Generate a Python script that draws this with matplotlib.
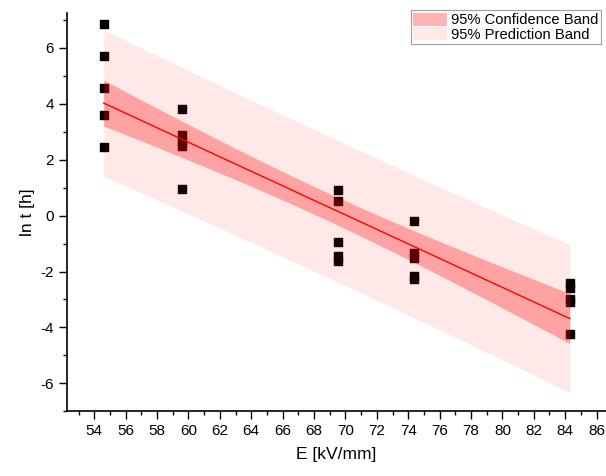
import numpy as np
import matplotlib
matplotlib.use('Agg')
from matplotlib import pyplot as plt
from matplotlib.patches import Patch

plt.rcParams['font.family'] = ['Liberation Sans', 'DejaVu Sans']
plt.rcParams['axes.unicode_minus'] = False

# measured breakdown data: field strength and log time to breakdown
E = [54.6] * 5 + [59.6] * 5 + [69.5] * 5 + [74.4] * 5 + [84.3] * 5
lnt = [6.85, 5.70, 4.55, 3.60, 2.45,
       3.80, 2.90, 2.65, 2.50, 0.95,
       0.92, 0.52, -0.95, -1.45, -1.62,
       -0.18, -1.35, -1.50, -2.15, -2.25,
       -2.40, -2.60, -3.00, -3.10, -4.25]
x_ticks = list(range(54, 87, 2))
y_ticks = [-6, -4, -2, 0, 2, 4, 6]

x = np.array(E)
y = np.array(lnt)
n = len(x)
b, a = np.polyfit(x, y, 1)
resid = y - (a + b * x)
s = np.sqrt(np.sum(resid ** 2) / (n - 2))
t_crit = 2.069  # t(0.975, df=23)
xbar = x.mean()
sxx = np.sum((x - xbar) ** 2)

xf = np.linspace(x.min(), x.max(), 200)
yf = a + b * xf
ci = t_crit * s * np.sqrt(1 / n + (xf - xbar) ** 2 / sxx)
pi = t_crit * s * np.sqrt(1 + 1 / n + (xf - xbar) ** 2 / sxx)

fig = plt.figure(figsize=(6.06, 4.76), dpi=100)
ax = fig.add_axes([0.111, 0.136, 0.889, 0.836])

ax.scatter(x, y, marker='s', s=36, color='black', zorder=1)
ax.fill_between(xf, yf - pi, yf + pi, color='red', alpha=0.09, lw=0, zorder=2)
ax.fill_between(xf, yf - ci, yf + ci, color='red', alpha=0.30, lw=0, zorder=3)
ax.plot(xf, yf, color='red', lw=1, zorder=4)

ax.set_xlim(52.28, 86.6)
ax.set_ylim(-6.83, 7.24)
ax.set_xticks(x_ticks)
ax.set_yticks(y_ticks)
ax.set_xticks(np.arange(53, 87, 2), minor=True)
ax.set_yticks(np.arange(-7, 8, 2), minor=True)
ax.tick_params(which='major', direction='out', length=6, width=1, labelsize=11)
ax.tick_params(which='minor', direction='out', length=3, width=1)
for sp in ['top', 'right']:
    ax.spines[sp].set_visible(False)
for sp in ['left', 'bottom']:
    ax.spines[sp].set_linewidth(1.2)

ax.set_xlabel('E [kV/mm]', fontsize=12.5, labelpad=6)
ax.set_ylabel('ln t [h]', fontsize=12.5, labelpad=4)

handles = [Patch(facecolor=(1, 0.70, 0.70), edgecolor='none'),
           Patch(facecolor=(1, 0.91, 0.91), edgecolor='none')]
leg = fig.legend(handles, ['95% Confidence Band', '95% Prediction Band'],
                 loc='upper left', bbox_to_anchor=(0.678, 0.978),
                 bbox_transform=fig.transFigure, fontsize=10.6,
                 frameon=True, fancybox=False, handlelength=2.3, handleheight=1.0,
                 handletextpad=0.3, borderpad=0.15, labelspacing=0.0, borderaxespad=0)
leg.get_frame().set_edgecolor('#888888')
leg.get_frame().set_linewidth(0.8)

plt.savefig('out.png', dpi=100)
